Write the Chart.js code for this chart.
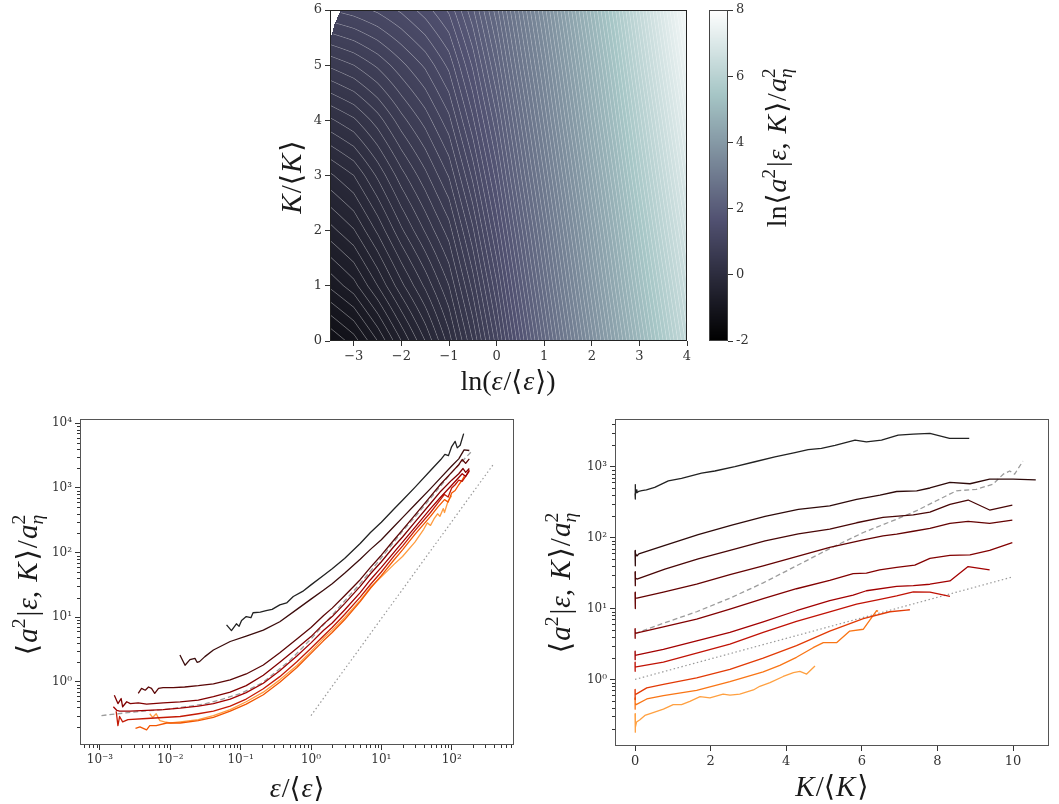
<!DOCTYPE html>
<html>
<head>
<meta charset="utf-8">
<script src="https://cdn.jsdelivr.net/npm/chart.js@4.4.0/dist/chart.umd.min.js"></script>
<style>
html, body { margin: 0; padding: 0; background: #fff; }
#wrap { position: relative; width: 1059px; height: 804px; }
canvas { position: absolute; left: 0; top: 0; }
</style>
</head>
<body>
<div id="wrap">
<canvas id="heatChart" width="1059" height="804"></canvas>
<canvas id="cbarChart" width="1059" height="804"></canvas>
<canvas id="epsChart" width="1059" height="804"></canvas>
<canvas id="kChart" width="1059" height="804"></canvas>
</div>
<script>
// ---- top panel: ln<a^2|eps,K>/a_eta^2 on a (ln eps, K) grid ----
const heatX = [-3.5, -3, -2.5, -2, -1.5, -1, -0.5, 0, 0.5, 1, 1.5, 2, 2.5, 3, 3.5, 4];
const heatK = [0, 1, 2, 3, 4, 5, 6];
const heatK0 = [-1.30, -1.15, -0.90, -0.60, -0.30, 0.05, 0.50, 1.05, 1.70, 2.35, 3.00, 3.65, 4.30, 4.95, 5.60, 6.25];
const heatK1 = [-0.88, -0.74, -0.50, -0.23, 0.02, 0.30, 0.74, 1.28, 1.93, 2.57, 3.22, 3.87, 4.52, 5.18, 5.83, 6.49];
const heatK2 = [-0.54, -0.41, -0.18, 0.08, 0.31, 0.55, 0.98, 1.52, 2.15, 2.78, 3.43, 4.08, 4.73, 5.40, 6.07, 6.73];
const heatK3 = [-0.22, -0.10, 0.12, 0.36, 0.57, 0.81, 1.23, 1.75, 2.38, 3.00, 3.65, 4.30, 4.95, 5.63, 6.30, 6.98];
const heatK4 = [0.18, 0.28, 0.45, 0.66, 0.84, 1.07, 1.48, 1.98, 2.60, 3.22, 3.87, 4.52, 5.17, 5.85, 6.53, 7.22];
const heatK5 = [0.62, 0.70, 0.82, 0.97, 1.12, 1.33, 1.72, 2.22, 2.83, 3.43, 4.08, 4.73, 5.38, 6.08, 6.77, 7.46];
const heatK6 = [1.10, 1.15, 1.22, 1.32, 1.45, 1.62, 1.98, 2.46, 3.05, 3.65, 4.30, 4.95, 5.60, 6.30, 7.00, 7.70];
const heatRows = [heatK0, heatK1, heatK2, heatK3, heatK4, heatK5, heatK6];
// empty (no data) corner, top left
const nanEdgeK = [5.45, 5.6, 5.76, 6.0];
const nanEdgeX = [-3.5, -3.45, -3.40, -3.27];

const heatXTicks = [-3, -2, -1, 0, 1, 2, 3, 4];
const heatXLabels = ['\u22123', '\u22122', '\u22121', '0', '1', '2', '3', '4'];
const heatYTicks = [0, 1, 2, 3, 4, 5, 6];
const cbarTicks = [-2, 0, 2, 4, 6, 8];
const cbarLabels = ['-2', '0', '2', '4', '6', '8'];

// ---- bottom left: <a^2|eps,K> vs eps/<eps> ----
const epsL1 = [0.063, 0.074, 0.087, 0.095, 0.103, 0.12, 0.14, 0.15, 0.19, 0.23, 0.28, 0.36, 0.45, 0.56, 0.76, 1, 1.5, 2, 3, 5, 7, 10, 15, 20, 30, 50, 70, 80, 90, 100, 112, 120, 132, 148];
const valL1 = [7.6, 6.2, 7.9, 7.2, 8.9, 10.2, 9.8, 11.7, 12.0, 12.6, 13.2, 15.5, 16.6, 20.9, 25, 31.6, 44, 56, 81, 138, 204, 295, 468, 646, 1020, 1860, 2750, 3310, 3160, 4370, 5250, 4170, 4570, 6920];
const epsL2 = [0.0137, 0.0162, 0.019, 0.0224, 0.024, 0.026, 0.031, 0.041, 0.071, 0.12, 0.21, 0.36, 0.63, 1, 1.5, 2, 3, 5, 7, 10, 15, 20, 30, 50, 70, 100, 126, 150, 178];
const valL2 = [2.6, 1.8, 2.2, 2.3, 2.0, 2.05, 2.45, 3.1, 4.2, 5.1, 6.3, 8.5, 13.2, 19, 26, 33, 48, 79, 112, 158, 251, 347, 550, 977, 1445, 2190, 2820, 3890, 3800];
const epsL3 = [0.0035, 0.0039, 0.0044, 0.0049, 0.0054, 0.006, 0.0068, 0.0079, 0.011, 0.016, 0.025, 0.041, 0.071, 0.12, 0.21, 0.36, 0.63, 1, 1.5, 2, 3, 5, 7, 10, 15, 20, 30, 50, 70, 100, 126, 141, 158, 178];
const valL3 = [0.66, 0.79, 0.74, 0.83, 0.79, 0.66, 0.79, 0.81, 0.81, 0.83, 0.87, 0.93, 1.07, 1.32, 1.82, 2.82, 4.6, 6.9, 10.5, 13.8, 21.4, 38, 59, 91, 155, 224, 380, 741, 1150, 1740, 2290, 2750, 2400, 2820];
const epsL4 = [0.0016, 0.0018, 0.002, 0.0021, 0.0024, 0.0027, 0.0035, 0.0046, 0.0079, 0.0138, 0.025, 0.041, 0.071, 0.12, 0.21, 0.36, 0.63, 1, 1.5, 2, 3, 5, 7, 10, 15, 20, 30, 50, 70, 100, 126, 145, 158, 178];
const valL4 = [0.62, 0.46, 0.55, 0.41, 0.49, 0.46, 0.47, 0.45, 0.47, 0.49, 0.52, 0.59, 0.69, 0.87, 1.26, 2.0, 3.3, 5.0, 7.8, 10.2, 16.2, 30, 47, 72, 123, 174, 295, 575, 891, 1320, 1660, 2000, 1740, 2000];
const epsL5 = [0.00155, 0.00174, 0.0019, 0.0027, 0.0046, 0.0079, 0.0138, 0.025, 0.041, 0.071, 0.12, 0.21, 0.36, 0.63, 1, 1.5, 2, 3, 5, 7, 10, 15, 20, 30, 50, 70, 100, 126, 141, 158, 178];
const valL5 = [0.41, 0.36, 0.35, 0.35, 0.36, 0.37, 0.39, 0.42, 0.46, 0.54, 0.68, 0.95, 1.48, 2.5, 4.0, 6.2, 8.1, 12.9, 24, 38, 59, 100, 145, 245, 479, 724, 1100, 1450, 1660, 1510, 1820];
const epsL6 = [0.0017, 0.0018, 0.0019, 0.0021, 0.0025, 0.0046, 0.0079, 0.0138, 0.025, 0.041, 0.071, 0.12, 0.21, 0.36, 0.63, 1, 1.5, 2, 3, 5, 7, 10, 15, 20, 30, 50, 63, 79, 89, 100, 112, 126, 141, 158, 178];
const valL6 = [0.35, 0.21, 0.29, 0.24, 0.26, 0.27, 0.28, 0.29, 0.32, 0.35, 0.42, 0.54, 0.78, 1.2, 2.04, 3.3, 5.1, 6.9, 11.0, 20.4, 32, 50, 87, 126, 219, 417, 575, 794, 724, 1000, 1120, 1320, 1260, 1510, 1900];
const epsL7 = [0.0032, 0.0037, 0.0046, 0.0051, 0.0063, 0.0089, 0.0138, 0.025, 0.041, 0.071, 0.12, 0.21, 0.36, 0.63, 1, 1.5, 2, 3, 5, 7, 10, 15, 20, 30, 50, 63, 79, 89, 100, 112, 126, 141, 151];
const valL7 = [0.19, 0.20, 0.18, 0.21, 0.21, 0.23, 0.23, 0.25, 0.28, 0.35, 0.45, 0.63, 0.98, 1.66, 2.75, 4.3, 5.8, 9.1, 17.4, 28, 44, 76, 110, 191, 363, 500, 661, 603, 832, 912, 1120, 1320, 1510];
const epsL8 = [0.0051, 0.0056, 0.0063, 0.0071, 0.0083, 0.01, 0.0138, 0.025, 0.041, 0.071, 0.12, 0.21, 0.36, 0.63, 1, 1.5, 2, 3, 5, 7, 10, 15, 20, 30, 40, 45, 50, 56, 63, 68, 76, 79, 89, 100];
const valL8 = [0.32, 0.28, 0.32, 0.25, 0.24, 0.23, 0.24, 0.26, 0.30, 0.37, 0.49, 0.69, 1.07, 1.78, 2.95, 4.7, 6.3, 9.8, 18.2, 29, 42, 65, 87, 145, 229, 288, 263, 331, 398, 363, 479, 417, 631, 759];
const epsDash = [0.00105, 0.003, 0.01, 0.03, 0.05, 0.1, 0.2, 0.3, 0.5, 1, 2, 3, 5, 10, 20, 30, 50, 100, 190];
const valDash = [0.30, 0.34, 0.38, 0.45, 0.52, 0.66, 0.95, 1.35, 2.14, 4.6, 10.7, 17.8, 33, 83, 214, 355, 690, 1740, 3630];
const epsDot = [1, 400];
const valDot = [0.3, 2400];
const leftColors = ['#222222', '#3b0c0c', '#5a0606', '#800000', '#a00000', '#c41a05', '#f25500', '#ff9c40'];

const epsMajor = [0.001, 0.01, 0.1, 1, 10, 100];
const epsLabels = ['10\u207B\u00B3', '10\u207B\u00B2', '10\u207B\u00B9', '10\u2070', '10\u00B9', '10\u00B2'];
const aMajorL = [1, 10, 100, 1000, 10000];
const aLabelsL = ['10\u2070', '10\u00B9', '10\u00B2', '10\u00B3', '10\u2074'];

// ---- bottom right: <a^2|eps,K> vs K/<K> ----
const kR1 = [0, 0, 0, 0.01, 0.02, 0.03, 0.05, 0.1, 0.18, 0.3, 0.52, 0.88, 1.23, 1.76, 2.11, 2.64, 3.17, 3.70, 4.23, 4.58, 4.93, 5.29, 5.82, 6.12, 6.52, 6.96, 7.36, 7.80, 8.32, 8.84];
const vR1 = [420, 560, 350, 500, 400, 470, 430, 450, 460, 470, 510, 630, 685, 810, 870, 1000, 1175, 1380, 1585, 1740, 1820, 2000, 2370, 2240, 2370, 2790, 2880, 2950, 2510, 2510];
const kR2 = [0, 0, 0, 0.01, 0.02, 0.05, 0.1, 0.79, 1.67, 2.56, 3.44, 4.32, 5.15, 5.86, 6.48, 6.92, 7.45, 7.80, 8.33, 8.86, 9.38, 10.0, 10.6];
const vR2 = [66, 40, 62, 52, 60, 55, 59, 78, 110, 150, 200, 250, 280, 347, 398, 447, 457, 501, 603, 575, 668, 668, 653];
const kR3 = [0, 0, 0, 0.01, 0.02, 0.05, 0.79, 1.67, 2.56, 3.44, 4.32, 5.15, 5.86, 6.56, 7.36, 7.80, 8.33, 8.81, 9.38, 9.98];
const vR3 = [33, 21, 28, 25, 27, 26, 36, 50, 67, 90, 113, 132, 162, 193, 209, 229, 295, 339, 245, 288];
const kR4 = [0, 0, 0, 0.01, 0.02, 0.05, 0.75, 1.63, 2.51, 3.39, 4.27, 5.15, 6.04, 6.56, 6.92, 7.36, 7.80, 8.33, 8.81, 9.38, 9.98];
const vR4 = [17, 10, 15, 13, 14, 14, 17, 22, 30, 40, 54, 73, 93, 106, 112, 123, 135, 159, 170, 159, 176];
const kR5 = [0, 0, 0, 0.01, 0.03, 0.75, 1.63, 2.16, 2.51, 3.39, 4.27, 5.15, 5.77, 6.12, 6.47, 6.92, 7.40, 7.80, 8.33, 8.86, 9.38, 9.98];
const vR5 = [5.2, 3.8, 4.8, 4.5, 4.5, 5.5, 7.1, 8.6, 9.8, 13.8, 19.0, 25, 31, 31.6, 35, 38, 41, 51, 56, 57, 66, 85];
const kR6 = [0, 0, 0, 0.01, 0.03, 0.75, 1.63, 2.51, 3.39, 4.27, 5.15, 5.77, 6.12, 6.92, 7.36, 7.80, 8.33, 8.81, 9.38];
const vR6 = [2.5, 1.9, 2.3, 2.2, 2.2, 2.65, 3.5, 4.6, 6.5, 9.3, 12.9, 15.5, 17.8, 20.5, 21, 22, 24.5, 39, 35];
const kR7 = [0, 0, 0, 0.01, 0.03, 0.75, 1.63, 2.51, 3.39, 4.27, 5.15, 5.86, 6.48, 6.92, 7.36, 7.80, 8.33];
const vR7 = [1.75, 1.3, 1.6, 1.5, 1.5, 1.75, 2.35, 3.15, 4.6, 6.6, 9.0, 11.5, 13.5, 15.1, 17.2, 17, 14.8];
const kR8 = [0, 0, 0, 0.01, 0.03, 0.31, 0.75, 1.63, 2.51, 3.39, 4.27, 5.15, 6.04, 6.74, 7.18, 7.27];
const vR8 = [0.72, 0.52, 0.66, 0.62, 0.62, 0.76, 0.85, 1.05, 1.38, 2.0, 3.0, 4.8, 7.2, 9.0, 9.5, 9.6];
const kR9 = [0, 0, 0, 0.01, 0.03, 0.31, 0.75, 1.63, 2.51, 3.39, 3.83, 4.27, 4.71, 4.98, 5.33, 5.68, 6.04, 6.39, 6.43];
const vR9 = [0.55, 0.38, 0.5, 0.46, 0.44, 0.53, 0.59, 0.70, 0.93, 1.28, 1.58, 2.05, 2.8, 3.3, 3.3, 4.8, 5.1, 9.3, 9.2];
const kR10 = [0, 0, 0, 0.01, 0.02, 0.04, 0.13, 0.26, 0.40, 0.75, 1.01, 1.23, 1.45, 1.72, 1.98, 2.33, 2.51, 2.77, 3.13, 3.30, 3.57, 3.92, 4.19, 4.36, 4.54, 4.76];
const vR10 = [0.33, 0.18, 0.3, 0.26, 0.21, 0.25, 0.27, 0.31, 0.33, 0.38, 0.44, 0.44, 0.49, 0.57, 0.55, 0.62, 0.60, 0.62, 0.71, 0.80, 0.90, 1.10, 1.25, 1.30, 1.19, 1.55];
const kDash = [0, 0.04, 0.75, 1.63, 2.51, 3.39, 4.27, 5.15, 6.04, 6.92, 7.45, 7.97, 8.50, 9.03, 9.47, 9.74, 9.91, 10.04, 10.26];
const vDash = [4.6, 4.5, 6.2, 9.0, 14, 23, 40, 70, 118, 182, 240, 331, 457, 480, 569, 785, 871, 785, 1200];
const kDot = [0, 10];
const vDot = [1, 28];
const rightColors = ['#222222', '#2e0a0a', '#480606', '#640202', '#820000', '#a20000', '#c01205', '#e23a05', '#f97515', '#ffa040'];

const kTicks = [0, 2, 4, 6, 8, 10];
const aMajorR = [1, 10, 100, 1000];
const aLabelsR = ['10\u2070', '10\u00B9', '10\u00B2', '10\u00B3'];

// ---------------------------------------------------------------
const TICK = '#333';
const tickFont = { family: 'DejaVu Serif', size: 13 };
const powFont = { family: 'DejaVu Serif', size: 12 };

function interp(xs, ys, x) {
    if (x <= xs[0]) return ys[0];
    for (let i = 1; i < xs.length; i++) {
        if (x <= xs[i]) return ys[i - 1] + (ys[i] - ys[i - 1]) * (x - xs[i - 1]) / (xs[i] - xs[i - 1]);
    }
    return ys[ys.length - 1];
}

// matplotlib "bone"
const boneR = [[0, 0], [0.746032, 0.652778], [1, 1]];
const boneG = [[0, 0], [0.365079, 0.319444], [0.746032, 0.777778], [1, 1]];
const boneB = [[0, 0], [0.365079, 0.444444], [1, 1]];
function bone(t) {
    t = Math.min(1, Math.max(0, t));
    const f = pts => interp(pts.map(p => p[0]), pts.map(p => p[1]), t) * 255;
    return [f(boneR), f(boneG), f(boneB)];
}

function seg(arr, v) {
    let i = 0;
    while (i < arr.length - 2 && v > arr[i + 1]) i++;
    return i;
}
function heatValue(e, k) {
    if (k > nanEdgeK[0] && e < interp(nanEdgeK, nanEdgeX, k)) return NaN;
    const i = seg(heatX, e), j = seg(heatK, k);
    const tx = (e - heatX[i]) / (heatX[i + 1] - heatX[i]);
    const ty = (k - heatK[j]) / (heatK[j + 1] - heatK[j]);
    const r0 = heatRows[j], r1 = heatRows[j + 1];
    const a = r0[i] + (r0[i + 1] - r0[i]) * tx;
    const b = r1[i] + (r1[i + 1] - r1[i]) * tx;
    return a + (b - a) * ty;
}

const heatPlugin = {
    id: 'heat',
    beforeDatasetsDraw(chart) {
        const { ctx, chartArea: a, scales: { x, y } } = chart;
        const x0 = Math.round(a.left), y0 = Math.round(a.top);
        const w = Math.round(a.right) - x0, h = Math.round(a.bottom) - y0;
        const vals = new Float32Array(w * h);
        for (let j = 0; j < h; j++) {
            const k = y.getValueForPixel(y0 + j + 0.5);
            for (let i = 0; i < w; i++) {
                vals[j * w + i] = heatValue(x.getValueForPixel(x0 + i + 0.5), k);
            }
        }
        const img = ctx.createImageData(w, h);
        const d = img.data;
        for (let j = 0; j < h; j++) {
            for (let i = 0; i < w; i++) {
                const p = j * w + i, v = vals[p];
                if (isNaN(v)) { d[p * 4 + 3] = 0; continue; }
                let [r, g, b] = bone((v + 2) / 10);
                // contour lines every 0.1
                const vx = vals[j * w + Math.min(w - 1, i + 1)] - vals[j * w + Math.max(0, i - 1)];
                const vy = vals[Math.min(h - 1, j + 1) * w + i] - vals[Math.max(0, j - 1) * w + i];
                const gr = Math.hypot(vx, vy) / 2;
                if (gr > 0 && isFinite(gr)) {
                    const f = v / 0.1;
                    const dist = Math.abs(f - Math.round(f)) * 0.1 / gr;
                    if (dist < 0.75) {
                        const al = 0.36 * (1 - dist / 0.75);
                        r += (255 - r) * al; g += (255 - g) * al; b += (255 - b) * al;
                    }
                }
                d[p * 4] = r; d[p * 4 + 1] = g; d[p * 4 + 2] = b; d[p * 4 + 3] = 255;
            }
        }
        ctx.putImageData(img, x0, y0);
    }
};

const cbarPlugin = {
    id: 'cbar',
    beforeDatasetsDraw(chart) {
        const { ctx, chartArea: a, scales: { y } } = chart;
        for (let py = Math.round(a.top); py < Math.round(a.bottom); py++) {
            const v = y.getValueForPixel(py + 0.5);
            const [r, g, b] = bone((v + 2) / 10);
            ctx.fillStyle = `rgb(${r | 0},${g | 0},${b | 0})`;
            ctx.fillRect(a.left, py, a.right - a.left, 1);
        }
    }
};

function drawMath(ctx, parts, cx, cy, rot, size) {
    const fam = '"Liberation Serif", "DejaVu Serif", serif';
    ctx.save();
    ctx.translate(cx, cy);
    ctx.rotate(rot || 0);
    ctx.fillStyle = '#1a1a1a';
    ctx.textBaseline = 'alphabetic';
    ctx.textAlign = 'left';
    let x = 0;
    const runs = [];
    for (const p of parts) {
        const fs = (p.sup || p.sub) ? size * 0.68 : size;
        const font = (p.it ? 'italic ' : '') + fs.toFixed(1) + 'px ' + fam;
        ctx.font = font;
        const w = ctx.measureText(p.t).width;
        runs.push({ t: p.t, font, x, dy: p.sup ? -size * 0.42 : p.sub ? size * 0.2 : 0 });
        if (!p.keep) x += w + (p.gap || 0);
    }
    for (const r of runs) {
        ctx.font = r.font;
        ctx.fillText(r.t, r.x - x / 2, r.dy + size * 0.3);
    }
    ctx.restore();
}

const decorPlugin = {
    id: 'decor',
    afterDraw(chart, args, opts) {
        const { ctx, chartArea: a } = chart;
        ctx.save();
        ctx.strokeStyle = TICK;
        ctx.lineWidth = 1;
        for (const s of Object.values(chart.scales)) {
            if (!s.options.display) continue;
            for (const t of s.ticks) {
                if (t.major !== false) continue;
                const p = Math.round(s.getPixelForValue(t.value)) + 0.5;
                ctx.beginPath();
                if (s.isHorizontal()) { ctx.moveTo(p, a.bottom); ctx.lineTo(p, a.bottom + 3); }
                else { ctx.moveTo(a.left, p); ctx.lineTo(a.left - 3, p); }
                ctx.stroke();
            }
        }
        if (opts.box) {
            ctx.strokeStyle = opts.box;
            ctx.strokeRect(Math.round(a.left) + 0.5, Math.round(a.top) + 0.5,
                Math.round(a.right - a.left) - 1, Math.round(a.bottom - a.top) - 1);
        }
        for (const l of opts.labels || []) drawMath(ctx, l.parts, l.x, l.y, l.rot, l.size);
        ctx.restore();
    }
};

const T = (t, o) => Object.assign({ t }, o || {});
const lblEps = [T('\u03B5', { it: 1, gap: 1 }), T('/\u27E8', { gap: 1 }), T('\u03B5', { it: 1, gap: 1 }), T('\u27E9')];
const lblLnEps = [T('ln('), T('\u03B5', { it: 1, gap: 1 }), T('/\u27E8', { gap: 1 }), T('\u03B5', { it: 1, gap: 1 }), T('\u27E9)')];
const lblK = [T('K', { it: 1, gap: 1 }), T('/\u27E8', { gap: 1 }), T('K', { it: 1, gap: 2 }), T('\u27E9')];
const lblA2 = [T('\u27E8', { gap: 1 }), T('a', { it: 1 }), T('2', { sup: 1, gap: 2 }), T('|', { gap: 1 }), T('\u03B5', { it: 1 }), T(', ', { gap: 2 }),
    T('K', { it: 1, gap: 2 }), T('\u27E9', { gap: 1 }), T('/', { gap: 1 }), T('a', { it: 1 }), T('2', { sup: 1, keep: 1 }), T('\u03B7', { sub: 1, it: 1 })];
const lblLnA2 = [T('ln', { gap: 1 })].concat(lblA2);

function fitW(w) { return s => { s.width = w; s.paddingTop = 0; s.paddingBottom = 0; }; }
function fitH(h) { return s => { s.height = h; s.paddingLeft = 0; s.paddingRight = 0; }; }
function fixedTicks(vals) { return s => { s.ticks = vals.map(v => ({ value: v })); }; }
function logTicks(majors) {
    return s => {
        const out = [];
        const lo = s.min, hi = s.max;
        for (let dd = Math.floor(Math.log10(lo)); dd <= Math.ceil(Math.log10(hi)); dd++) {
            for (let m = 1; m <= 9; m++) {
                const v = m === 1 ? Math.pow(10, dd) : m * Math.pow(10, dd);
                if (v < lo || v > hi) continue;
                const mj = majors.find(q => Math.abs(q - v) / q < 1e-9);
                out.push(mj !== undefined ? { value: mj, major: true } : { value: v, major: false });
            }
        }
        s.ticks = out;
    };
}
const gridOpts = {
    drawOnChartArea: false, tickLength: 5, tickWidth: 1,
    tickColor: c => (c.tick && c.tick.major === false) ? 'rgba(0,0,0,0)' : TICK
};
function baseOptions(padding, decor) {
    return {
        responsive: false, animation: false, events: [],
        layout: { padding },
        plugins: { legend: { display: false }, tooltip: { enabled: false }, decor }
    };
}
function line(xs, ys, color, extra) {
    return Object.assign({
        data: xs.map((x, i) => ({ x, y: ys[i] })),
        borderColor: color, borderWidth: 1.3, pointRadius: 0, fill: false,
        tension: 0, borderJoinStyle: 'round', showLine: true
    }, extra || {});
}

// ---- heatmap ----
const heatOpts = baseOptions({ left: 290, right: 372, top: 10, bottom: 438 }, {
    box: '#222',
    labels: [
        { parts: lblLnEps, x: 508, y: 382, size: 28 },
        { parts: lblK, x: 292, y: 177, rot: -Math.PI / 2, size: 29 }
    ]
});
heatOpts.scales = {
    x: {
        type: 'linear', min: -3.5, max: 4, bounds: 'data',
        afterBuildTicks: fixedTicks(heatXTicks), afterFit: fitH(25),
        ticks: { callback: v => heatXLabels[heatXTicks.indexOf(v)], font: tickFont, color: TICK, padding: 3, maxRotation: 0, autoSkip: false },
        grid: gridOpts, border: { display: false }
    },
    y: {
        type: 'linear', min: 0, max: 6, bounds: 'data',
        afterBuildTicks: fixedTicks(heatYTicks), afterFit: fitW(40),
        ticks: { callback: v => String(v), font: tickFont, color: TICK, padding: 3, autoSkip: false },
        grid: gridOpts, border: { display: false }
    }
};
new Chart(document.getElementById('heatChart'), {
    type: 'scatter',
    data: { datasets: [{ data: [] }] },
    options: heatOpts,
    plugins: [heatPlugin, decorPlugin]
});

// ---- colorbar ----
const cbarOpts = baseOptions({ left: 709, right: 301, top: 10, bottom: 463 }, {
    box: '#444',
    labels: [{ parts: lblLnA2, x: 778, y: 148, rot: -Math.PI / 2, size: 28 }]
});
cbarOpts.scales = {
    x: { type: 'linear', display: false, min: 0, max: 1 },
    y: {
        type: 'linear', position: 'right', min: -2, max: 8, bounds: 'data',
        afterBuildTicks: fixedTicks(cbarTicks), afterFit: fitW(30),
        ticks: { callback: v => cbarLabels[cbarTicks.indexOf(v)], font: tickFont, color: TICK, padding: 3, autoSkip: false },
        grid: gridOpts, border: { display: false }
    }
};
new Chart(document.getElementById('cbarChart'), {
    type: 'scatter',
    data: { datasets: [{ data: [] }] },
    options: cbarOpts,
    plugins: [cbarPlugin, decorPlugin]
});

// ---- eps panel ----
const epsSets = [
    [epsL1, valL1], [epsL2, valL2], [epsL3, valL3], [epsL4, valL4],
    [epsL5, valL5], [epsL6, valL6], [epsL7, valL7], [epsL8, valL8]
].map((s, i) => line(s[0], s[1], leftColors[i]));
epsSets.push(line(epsDash, valDash, '#9c9c9c', { borderDash: [5, 3], borderWidth: 1.3 }));
epsSets.push(line(epsDot, valDot, '#9a9a9a', { borderDash: [1.5, 2.5], borderWidth: 1.2 }));

const epsOpts = baseOptions({ left: 40, right: 545, top: 419, bottom: 34 }, {
    box: '#555',
    labels: [
        { parts: lblEps, x: 297, y: 789, size: 28 },
        { parts: lblA2, x: 28, y: 585, rot: -Math.PI / 2, size: 29 }
    ]
});
epsOpts.scales = {
    x: {
        type: 'logarithmic', min: 5.2e-4, max: 769, bounds: 'data',
        afterBuildTicks: logTicks(epsMajor), afterFit: fitH(25),
        ticks: { callback: v => { const i = epsMajor.indexOf(v); return i < 0 ? '' : epsLabels[i]; }, font: powFont, color: TICK, padding: 3, maxRotation: 0, autoSkip: false },
        grid: gridOpts, border: { display: false }
    },
    y: {
        type: 'logarithmic', min: 0.105, max: 11670, bounds: 'data',
        afterBuildTicks: logTicks(aMajorL), afterFit: fitW(40),
        ticks: { callback: v => { const i = aMajorL.indexOf(v); return i < 0 ? '' : aLabelsL[i]; }, font: powFont, color: TICK, padding: 3, autoSkip: false },
        grid: gridOpts, border: { display: false }
    }
};
new Chart(document.getElementById('epsChart'), {
    type: 'scatter',
    data: { datasets: epsSets },
    options: epsOpts,
    plugins: [decorPlugin]
});

// ---- K panel ----
const kSets = [
    [kR1, vR1], [kR2, vR2], [kR3, vR3], [kR4, vR4], [kR5, vR5],
    [kR6, vR6], [kR7, vR7], [kR8, vR8], [kR9, vR9], [kR10, vR10]
].map((s, i) => line(s[0], s[1], rightColors[i]));
kSets.push(line(kDash, vDash, '#9c9c9c', { borderDash: [5, 3], borderWidth: 1.3 }));
kSets.push(line(kDot, vDot, '#9a9a9a', { borderDash: [1.5, 2.5], borderWidth: 1.2 }));

const kOpts = baseOptions({ left: 575, right: 10, top: 419, bottom: 33 }, {
    box: '#555',
    labels: [
        { parts: lblK, x: 832, y: 787, size: 29 },
        { parts: lblA2, x: 561, y: 583, rot: -Math.PI / 2, size: 29 }
    ]
});
kOpts.scales = {
    x: {
        type: 'linear', min: -0.53, max: 10.95, bounds: 'data',
        afterBuildTicks: fixedTicks(kTicks), afterFit: fitH(25),
        ticks: { callback: v => String(v), font: tickFont, color: TICK, padding: 3, maxRotation: 0, autoSkip: false },
        grid: gridOpts, border: { display: false }
    },
    y: {
        type: 'logarithmic', min: 0.115, max: 4710, bounds: 'data',
        afterBuildTicks: logTicks(aMajorR), afterFit: fitW(40),
        ticks: { callback: v => { const i = aMajorR.indexOf(v); return i < 0 ? '' : aLabelsR[i]; }, font: powFont, color: TICK, padding: 3, autoSkip: false },
        grid: gridOpts, border: { display: false }
    }
};
new Chart(document.getElementById('kChart'), {
    type: 'scatter',
    data: { datasets: kSets },
    options: kOpts,
    plugins: [decorPlugin]
});
</script>
</body>
</html>
